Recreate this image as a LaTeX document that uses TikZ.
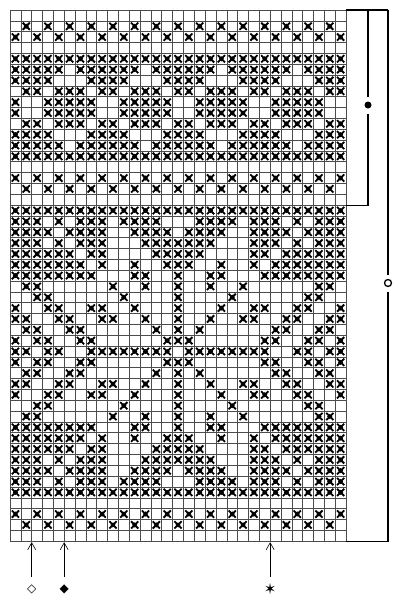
\documentclass[tikz,border=0pt]{standalone}
\usepackage{fontspec}
\newfontfamily\symfont{DejaVu Sans}
\usetikzlibrary{arrows.meta}
\newcount\colidx
\def\cw{10.84}
\newcommand\mkat[2]{\pic at ({10+(#1-0.5)*\cw},{10+(#2-0.5)*\cw}) {xmark};}
% full-width row: 31 chars
\def\prow#1#2{\def\prowr{#1}\colidx=0 \prowi#2\relax}
\def\prowi#1{\ifx#1\relax\else\advance\colidx by 1 \if#1X\edef\mkc{\the\colidx}\mkat{\mkc}{\prowr}\fi\expandafter\prowi\fi}
% symmetric row: 16 chars, mirrored about col 16 and row 32
\def\srow#1#2{\def\prowr{#1}\colidx=0 \srowi#2\relax}
\def\srowi#1{\ifx#1\relax\else\advance\colidx by 1 \if#1X\smk\fi\expandafter\srowi\fi}
\def\smk{\edef\mkc{\the\colidx}\edef\mkd{\the\numexpr32-\colidx\relax}\edef\mkrr{\the\numexpr64-\prowr\relax}%
 \mkat{\mkc}{\prowr}\ifnum\colidx<16 \mkat{\mkd}{\prowr}\fi
 \ifnum\prowr<32 \mkat{\mkc}{\mkrr}\ifnum\colidx<16 \mkat{\mkd}{\mkrr}\fi\fi}
\tikzset{
  xmark/.pic={\draw[line width=1.8pt,line cap=butt] (-3.6,-3.6)--(3.6,3.6) (-3.6,3.6)--(3.6,-3.6);
              \fill (0,-2.6)--(2.6,0)--(0,2.6)--(-2.6,0)--cycle;},
  gridln/.style={draw=black!70,line width=0.55pt},
  brline/.style={draw=black,line width=1.1pt},
  arr/.style={draw=black,line width=0.6pt,-{Straight Barb[length=7pt,width=8pt]}},
  sym/.style={font=\symfont\fontsize{12}{12}\selectfont,inner sep=0pt}
}
\begin{document}
\begin{tikzpicture}[x=1pt,y=-1pt]
\path[use as bounding box,fill=white] (0,0) rectangle (400,600);
% grid
\foreach \i in {0,...,31} \draw[gridln] ({10+\i*\cw},10) -- ({10+\i*\cw},{10+49*\cw});
\foreach \j in {0,...,49} \draw[gridln] (10,{10+\j*\cw}) -- ({10+31*\cw},{10+\j*\cw});
% simple rows
\foreach \r in {5,14,19,45} \foreach \c in {1,...,31} {\mkat{\c}{\r}}
\foreach \r in {3,16,47} \foreach \c in {1,3,...,31} {\mkat{\c}{\r}}
\foreach \r in {2,17,48} \foreach \c in {2,4,...,30} {\mkat{\c}{\r}}
% upper band
\prow{6}{XXXXX.XXXXXX.XXXXXX.XXXXXX.XXXX}
\prow{7}{XXXX...XXXX...XXXX...XXXX...XXX}
\prow{8}{.XX.XXX.XX.XXX.XX.XXX.XX.XXX.XX}
\prow{9}{X..XXXXX..XXXXX..XXXXX..XXXXX..}
\prow{10}{X..XXXXX..XXXXX..XXXXX..XXXXX..}
\prow{11}{.XX.XXX.XX.XXX.XX.XXX.XX.XXX.XX}
\prow{12}{XXXX...XXXX...XXXX...XXXX...XXX}
\prow{13}{XXXXX.XXXXXX.XXXXXX.XXXXXX.XXXX}
% lower band (mirrored)
\srow{20}{XXX.X.XXX.XXXX..}
\srow{21}{XXXX.XXXX..XXXX.}
\srow{22}{XXX.X.XXX...XXXX}
\srow{23}{XXXXXX.XX....XXX}
\srow{24}{XXXXXXX.X..X..XX}
\srow{25}{XXXXXXXX...XX..X}
\srow{26}{.XX......X..X..X}
\srow{27}{..XX......X....X}
\srow{28}{X..XX..XX..X...X}
\srow{29}{XX..XX..XX..X..X}
\srow{30}{.XX..XX......X.X}
\srow{31}{X.XX..XX......XX}
\srow{32}{XX.XX..XXXXXXXX.}
% brackets
\coordinate (gt) at ({10+31*\cw},10);
\coordinate (gm) at ({10+31*\cw},{10+18*\cw});
\coordinate (gb) at ({10+31*\cw},{10+49*\cw});
\node[circle,fill=black,inner sep=0pt,minimum size=7pt,outer sep=5pt] (dot) at (368,105) {};
\node[circle,draw=black,line width=1.3pt,inner sep=0pt,minimum size=7pt,outer sep=5pt] (ring) at (388,283) {};
\draw[brline] (gt) -- (388,10);
\draw[brline] (368,10) -- (dot.north);
\draw[brline] (dot.south) -- (368,{10+18*\cw}) -- (gm);
\draw[brline] (388,10) -- (ring.north);
\draw[brline] (ring.south) -- (388,{10+49*\cw}) -- (gb);
% arrows and symbols
\coordinate (t1) at ({10+2*\cw},{10+49*\cw+1});
\coordinate (t2) at ({10+5*\cw},{10+49*\cw+1});
\coordinate (t3) at ({10+24*\cw},{10+49*\cw+1});
\coordinate (s1) at ({10+2*\cw},577);
\coordinate (s2) at ({10+5*\cw},577);
\coordinate (s3) at ({10+24*\cw},577);
\draw[arr] (s1) -- (t1);
\draw[arr] (s2) -- (t2);
\draw[arr] (s3) -- (t3);
\node[sym] (d1) at ({10+2*\cw},589) {◇};
\node[sym] (d2) at ({10+5*\cw},589) {◆};
\node[sym,font=\symfont\fontsize{15}{15}\selectfont] (d3) at ({10+24*\cw},589) {✶};
\end{tikzpicture}
\end{document}
